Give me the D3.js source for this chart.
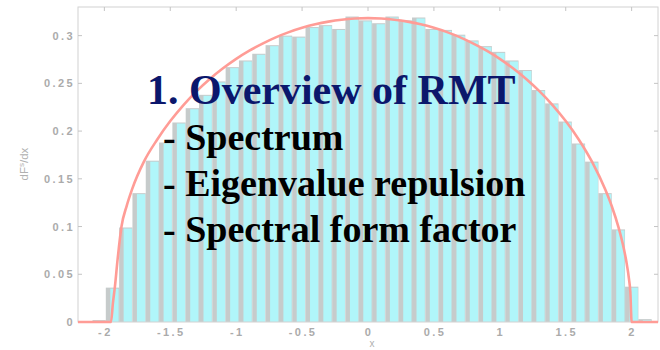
<!DOCTYPE html>
<html><head><meta charset="utf-8">
<script src="https://cdn.jsdelivr.net/npm/d3@7"></script>
<style>
html,body{margin:0;padding:0;background:#fff;}
svg{display:block;}
</style></head>
<body>
<svg id="chart" width="660" height="350"></svg>
<script>
// ---- data ----
const binStart = -2.09;
const binWidth = 0.101;
const binHeights = [0.002,0.036,0.099,0.135,0.169,0.188,0.209,0.224,0.238,0.252,
  0.267,0.274,0.281,0.290,0.300,0.299,0.309,0.311,0.307,0.320,
  0.316,0.313,0.320,0.316,0.319,0.307,0.306,0.301,0.295,0.289,
  0.283,0.274,0.264,0.243,0.229,0.210,0.187,0.168,0.135,0.097,
  0.037,0.003];
const curveX = [-2.2,-1.95,-1.935,-1.92,-1.9,-1.87,-1.83,-1.79,-1.7,-1.6,-1.5,-1.4,-1.3,-1.2,-1.1,-1.0,-0.9,-0.8,-0.7,-0.6,-0.5,-0.4,-0.3,-0.2,-0.1,0,
  0.1,0.2,0.3,0.4,0.5,0.6,0.7,0.8,0.9,1.0,1.1,1.2,1.3,1.4,1.5,1.6,1.7,1.8,1.85,1.9,1.94,1.96,1.98,1.99,2.0,2.2];
const curveY = [0,0,0.02,0.037,0.065,0.1,0.122,0.139,0.168,0.191,0.2105,0.2273,0.2419,0.2546,0.2658,0.2757,0.2843,0.2917,0.2982,0.3037,0.3082,0.3119,0.3147,0.3167,0.3179,0.3183,
  0.3179,0.3167,0.3147,0.3119,0.3082,0.3037,0.2982,0.2917,0.2843,0.2757,0.2658,0.2546,0.2419,0.2273,0.2105,0.1910,0.1677,0.1387,0.1210,0.0994,0.0774,0.0633,0.0449,0.0318,0,0];
const xTicks = [-2,-1.5,-1,-0.5,0,0.5,1,1.5,2];
const xTickLabels = ["-2","-1.5","-1","-0.5","0","0.5","1","1.5","2"];
const yTicks = [0,0.05,0.1,0.15,0.2,0.25,0.3];
const yTickLabels = ["0","0.05","0.1","0.15","0.2","0.25","0.3"];
const titleText = "1. Overview of RMT";
const bulletLines = ["- Spectrum","- Eigenvalue repulsion","- Spectral form factor"];

// ---- layout ----
const svg = d3.select("#chart");
const L = 78, R = 658, T = 7, B = 322;
const x = d3.scaleLinear().domain([-2.2,2.2]).range([L,R]);
const y = d3.scaleLinear().domain([0,0.33]).range([B,T]);

const bins = binHeights.map((h,i)=>({x0: binStart + i*binWidth, x1: binStart + (i+1)*binWidth, h}));

// bars: gray edge + cyan fill
const gBars = svg.append("g");
gBars.selectAll("rect.edge").data(bins).join("rect")
  .attr("class","edge")
  .attr("x", d=>x(d.x0)).attr("width", d=>x(d.x1)-x(d.x0))
  .attr("y", d=>y(d.h)).attr("height", d=>B - y(d.h))
  .attr("fill","#c6cbcb");
gBars.selectAll("rect.fill").data(bins).join("rect")
  .attr("class","fill")
  .attr("x", d=>x(d.x0)+4.5).attr("width", d=>Math.max(0,x(d.x1)-x(d.x0)-5))
  .attr("y", d=>Math.min(B, y(d.h)+1)).attr("height", d=>Math.max(0, B - y(d.h)-1))
  .attr("fill","#b0f6fa");

// frame
const axisCol = "#d2d2d2";
svg.append("rect").attr("x",L).attr("y",T).attr("width",R-L).attr("height",B-T)
  .attr("fill","none").attr("stroke",axisCol).attr("stroke-width",1);

// ticks
const tk = svg.append("g").attr("stroke","#c4c4c4").attr("stroke-width",1);
xTicks.forEach(v=>{
  tk.append("line").attr("x1",x(v)).attr("x2",x(v)).attr("y1",T).attr("y2",T+4);
});
yTicks.forEach(v=>{
  tk.append("line").attr("x1",L).attr("x2",L+4).attr("y1",y(v)).attr("y2",y(v));
  tk.append("line").attr("x1",R).attr("x2",R-4).attr("y1",y(v)).attr("y2",y(v));
});

// tick labels
const lblStyle = sel => sel.attr("fill","#ababab").attr("font-family","Liberation Sans, Arial, sans-serif")
  .attr("font-size","11px").attr("font-weight","bold").attr("letter-spacing","2.4px");
xTicks.forEach((v,i)=>{
  svg.append("text").call(lblStyle).attr("x",x(v)+1).attr("y",336).attr("text-anchor","middle").text(xTickLabels[i]);
});
yTicks.forEach((v,i)=>{
  svg.append("text").call(lblStyle).attr("x",75).attr("y",y(v)).attr("dy","0.36em").attr("text-anchor","end").text(yTickLabels[i]);
});

// axis labels
svg.append("text").attr("x",372).attr("y",347).attr("text-anchor","middle")
  .attr("fill","#b0b0b0").attr("font-family","Liberation Sans, Arial, sans-serif").attr("font-size","10px").text("x");
const yl = svg.append("text").attr("transform","translate(28,164) rotate(-90)").attr("text-anchor","middle")
  .attr("fill","#b0b0b0").attr("font-family","Liberation Sans, Arial, sans-serif").attr("font-size","11.5px");
yl.append("tspan").text("dF");
yl.append("tspan").attr("dy","-4").attr("font-size","8px").text("s");
yl.append("tspan").attr("dy","4").text("/dx");

// theory curve
const pts = curveX.map((v,i)=>[v,curveY[i]]);
svg.append("path").datum(pts)
  .attr("d", d3.line().x(d=>x(d[0])).y(d=>y(d[1])).curve(d3.curveMonotoneX))
  .attr("fill","none").attr("stroke","#ff9c96").attr("stroke-width",2.6).attr("stroke-linejoin","round");

// overlay text
svg.append("text").attr("x",147).attr("y",104)
  .attr("font-family","Liberation Serif, 'Times New Roman', serif").attr("font-weight","bold")
  .attr("font-size","42px").attr("fill","#0b176c").text(titleText);
const bulletY = [150,196,242];
bulletLines.forEach((t,i)=>{
  svg.append("text").attr("x",163).attr("y",bulletY[i])
    .attr("font-family","Liberation Serif, 'Times New Roman', serif").attr("font-weight","bold")
    .attr("font-size","38px").attr("fill","#000").text(t);
});
</script>
</body></html>
